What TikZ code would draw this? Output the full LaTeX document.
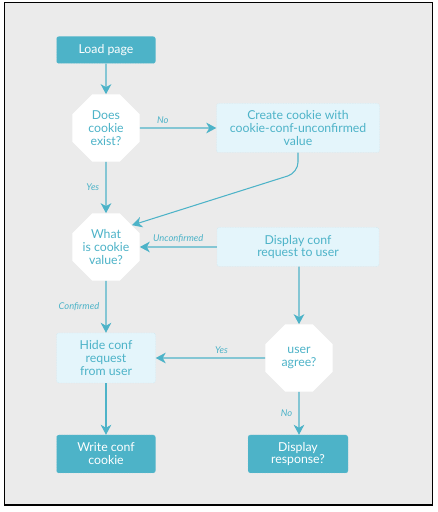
\documentclass[tikz,border=0pt]{standalone}
\usepackage{fontspec}
\setmainfont{Lato}
\usetikzlibrary{arrows.meta,positioning,shapes.geometric}
\definecolor{cyanbox}{HTML}{4DB3C8}
\definecolor{paleb}{HTML}{E4F5FB}
\definecolor{paleline}{HTML}{C3E6F1}
\definecolor{bg}{HTML}{EBEBEB}

\begin{document}
\begin{tikzpicture}[
  darkbox/.style={draw=cyanbox!70!white,densely dotted,fill=cyanbox,text=white,
    rounded corners=2pt,align=center,minimum width=2.97cm,
    font=\fontsize{10.5}{11}\selectfont},
  lightbox/.style={draw=paleline,densely dotted,fill=paleb,text=cyanbox,
    rounded corners=2pt,align=center,font=\fontsize{10.5}{11}\selectfont},
  decide/.style={regular polygon,regular polygon sides=8,fill=white,text=cyanbox,
    minimum size=2.18cm,inner sep=0pt,align=center,
    font=\fontsize{10.5}{11}\selectfont},
  flow/.style={draw=cyanbox,line width=0.9pt,
    -{Stealth[length=3mm,width=3.2mm,inset=0.9mm]}},
  lbl/.style={font=\fontsize{8}{9}\selectfont\itshape,text=cyanbox}]
  % frame
  \fill[white] (0,0) rectangle (13.14,15.36);
  \draw[line width=1pt,fill=bg] (0.13,0.21) rectangle (12.97,15.28);
  % left column
  \node[darkbox,minimum height=0.81cm] (load) at (3.18,13.86) {Load page};
  \node[decide] (exist) at (3.18,11.52) {Does\\cookie\\exist?};
  \node[decide] (value) at (3.18,7.95) {What\\is cookie\\value?};
  \node[lightbox,minimum width=2.97cm,minimum height=1.5cm] (hide) at (3.18,4.62)
     {Hide conf\\request\\from user};
  \node[darkbox,minimum height=1.14cm] (write) at (3.18,1.74) {Write conf\\cookie};
  % right column
  \node[lightbox,minimum width=4.89cm,minimum height=1.47cm] (create) at (8.94,11.52)
     {Create cookie with\\cookie-conf-unconfirmed\\value};
  \node[lightbox,minimum width=4.86cm,minimum height=1.17cm] (display) at (8.94,7.95)
     {Display conf\\request to user};
  \node[decide] (agree) at (8.97,4.62) {user\\agree?};
  \node[darkbox,minimum width=3cm,minimum height=1.14cm] (response) at (8.94,1.74)
     {Display\\response?};
  % connectors
  \draw[flow] (load) -- (exist);
  \draw[flow] (exist.east) -- node[lbl,above,pos=0.3] {No} (create.west);
  \draw[flow] (exist) -- node[lbl,left,xshift=-2pt] {Yes} (value);
  \draw[flow,rounded corners=9pt] (create.south) -- ++(0,-0.6) -- (value.40);
  \draw[flow] (display.west) -- node[lbl,above] {Unconfirmed} (value.east);
  \draw[flow] (value) -- node[lbl,left,xshift=-2pt] {Confirmed} (hide);
  \draw[flow] (display.south -| agree) -- (agree);
  \draw[flow] (agree.west) -- node[lbl,above,pos=0.4] {Yes} (hide.east);
  \draw[flow] (agree) -- node[lbl,left,xshift=-2pt] {No} (response.north -| agree);
  \draw[flow] (hide) -- (write);
\end{tikzpicture}
\end{document}
